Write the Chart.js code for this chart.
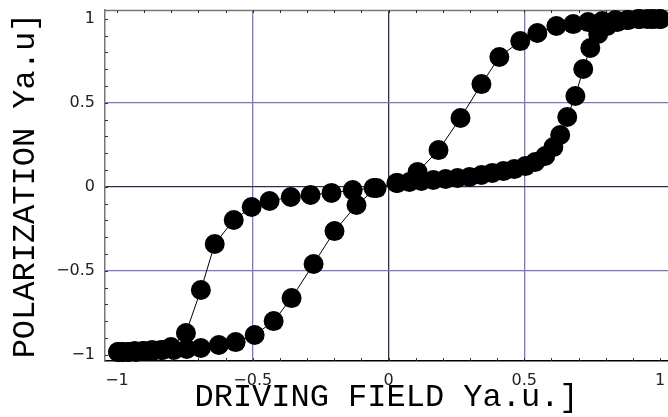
<!DOCTYPE html>
<html>
<head>
<meta charset="utf-8">
<script src="https://cdn.jsdelivr.net/npm/chart.js@4"></script>
<style>
  body { margin: 0; background: #fff; }
  #wrap { width: 668px; height: 417px; }
</style>
</head>
<body>
<div id="wrap"><canvas id="chart"></canvas></div>
<script>
// branch with the flat middle part
const branchAX = [-0.996, -0.982, -0.960, -0.934, -0.904, -0.871, -0.838, -0.801, -0.746, -0.691,
  -0.640, -0.570, -0.504, -0.438, -0.360, -0.287, -0.210, -0.132, -0.055, 0.029,
  0.077, 0.121, 0.165, 0.210, 0.254, 0.298, 0.342, 0.382, 0.423, 0.463,
  0.504, 0.540, 0.577, 0.607, 0.632, 0.658, 0.688, 0.717, 0.743, 0.772,
  0.805, 0.842, 0.882, 0.926, 0.967, 1.0];
const branchAY = [-0.984, -0.984, -0.984, -0.978, -0.978, -0.972, -0.972, -0.954, -0.871, -0.615,
  -0.341, -0.198, -0.121, -0.085, -0.061, -0.049, -0.037, -0.020, -0.008, 0.022,
  0.028, 0.034, 0.040, 0.046, 0.052, 0.058, 0.070, 0.082, 0.093, 0.105,
  0.123, 0.147, 0.183, 0.236, 0.308, 0.415, 0.540, 0.701, 0.826, 0.909,
  0.957, 0.980, 0.992, 0.998, 0.998, 0.998];

// branch that is steep through the origin
const branchBX = [-0.996, -0.978, -0.956, -0.930, -0.901, -0.868, -0.831, -0.790, -0.743, -0.691,
  -0.625, -0.563, -0.493, -0.423, -0.357, -0.276, -0.199, -0.118, -0.044, 0.033,
  0.107, 0.184, 0.265, 0.342, 0.408, 0.485, 0.548, 0.618, 0.680, 0.735,
  0.787, 0.835, 0.879, 0.919, 0.952, 0.978, 1.0];
const branchBY = [-0.984, -0.984, -0.984, -0.984, -0.978, -0.978, -0.972, -0.972, -0.966, -0.960,
  -0.942, -0.925, -0.883, -0.800, -0.663, -0.460, -0.264, -0.109, -0.008, 0.022,
  0.088, 0.218, 0.409, 0.611, 0.772, 0.867, 0.915, 0.957, 0.968, 0.980,
  0.986, 0.992, 0.992, 0.998, 0.998, 0.998, 0.998];

const xTicks = [-1, -0.5, 0, 0.5, 1];
const yTicks = [-1, -0.5, 0, 0.5, 1];
const xTitle = 'DRIVING FIELD Ya.u.]';
const yTitle = 'POLARIZATION Ya.u]';

function toPoints(xs, ys) {
  return xs.map((x, i) => ({ x: x, y: ys[i] }));
}

function gridColor(ctx) {
  const v = ctx.tick ? ctx.tick.value : null;
  if (v === 0) return '#2e2e52';
  if (Math.abs(v) === 0.5) return '#7878c0';
  return 'rgba(0,0,0,0)';
}

function tickText(v) {
  return v < 0 ? '\u2212' + String(-v) : String(v);
}

// small inward ticks on the frame, and the top frame line
const frameTicks = {
  id: 'frameTicks',
  beforeDatasetsDraw(chart) {
    const ctx = chart.ctx;
    const a = chart.chartArea;
    const xs = chart.scales.x, ys = chart.scales.y;
    ctx.save();
    ctx.strokeStyle = '#777';
    ctx.lineWidth = 1.5;
    ctx.beginPath();
    ctx.moveTo(a.left, a.top + 0.5);
    ctx.lineTo(a.right, a.top + 0.5);
    ctx.stroke();
    ctx.strokeStyle = '#333';
    ctx.lineWidth = 1;
    ctx.beginPath();
    for (let i = -10; i <= 10; i++) {
      const v = i / 10;
      const px = Math.round(xs.getPixelForValue(v)) + 0.5;
      ctx.moveTo(px, a.top); ctx.lineTo(px, a.top + 3);
      ctx.moveTo(px, a.bottom); ctx.lineTo(px, a.bottom - 3);
      const py = Math.round(ys.getPixelForValue(v)) + 0.5;
      ctx.moveTo(a.left, py); ctx.lineTo(a.left + 3, py);
    }
    ctx.stroke();
    ctx.restore();
  }
};

const common = {
  showLine: true,
  borderColor: '#000',
  borderWidth: 1,
  pointRadius: 10,
  pointBorderWidth: 0,
  pointBackgroundColor: '#000',
  pointBorderColor: '#000',
  tension: 0,
  clip: false
};

new Chart(document.getElementById('chart'), {
  type: 'scatter',
  data: {
    datasets: [
      Object.assign({ label: 'A', data: toPoints(branchAX, branchAY) }, common),
      Object.assign({ label: 'B', data: toPoints(branchBX, branchBY) }, common)
    ]
  },
  options: {
    responsive: true,
    maintainAspectRatio: false,
    animation: false,
    layout: { autoPadding: false, padding: { top: 10, right: 0, left: 0, bottom: 0 } },
    plugins: { legend: { display: false }, tooltip: { enabled: false } },
    scales: {
      x: {
        type: 'linear',
        min: -1.044,
        max: 1.029,
        afterBuildTicks(scale) { scale.ticks = xTicks.map(v => ({ value: v })); },
        afterFit(scale) { scale.height = 56; scale.paddingLeft = 0; scale.paddingRight = 0; },
        grid: { color: gridColor, lineWidth: 1.3, drawTicks: false },
        border: { color: '#000', width: 1.5 },
        ticks: {
          padding: 10,
          maxRotation: 0,
          color: '#222',
          font: { family: 'DejaVu Sans', size: 16 },
          callback: tickText
        },
        title: {
          display: true,
          text: xTitle,
          color: '#000',
          font: { family: 'Liberation Mono', size: 32 },
          padding: { top: 0, bottom: 0 }
        }
      },
      y: {
        type: 'linear',
        min: -1.0375,
        max: 1.052,
        afterBuildTicks(scale) { scale.ticks = yTicks.map(v => ({ value: v })); },
        afterFit(scale) { scale.width = 105; scale.paddingTop = 0; scale.paddingBottom = 0; },
        grid: { color: gridColor, lineWidth: 1.3, drawTicks: false },
        border: { color: '#777', width: 1.5 },
        ticks: {
          padding: 10,
          color: '#222',
          font: { family: 'DejaVu Sans', size: 16 },
          callback: tickText
        },
        title: {
          display: true,
          text: yTitle,
          color: '#000',
          font: { family: 'Liberation Mono', size: 32 },
          padding: { top: 6, bottom: 0 }
        }
      }
    }
  },
  plugins: [frameTicks]
});
</script>
</body>
</html>
